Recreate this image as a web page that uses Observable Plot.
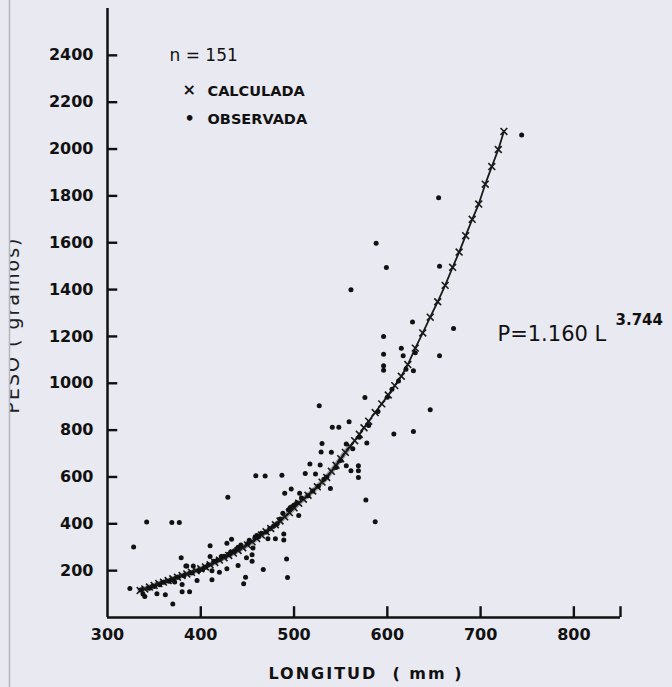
<!DOCTYPE html>
<html>
<head>
<meta charset="utf-8">
<script src="https://cdn.jsdelivr.net/npm/d3@7"></script>
<script src="https://cdn.jsdelivr.net/npm/@observablehq/plot@0.6"></script>
<style>
  html, body { margin: 0; padding: 0; background: #e9e9f1; }
  #chart { position: relative; width: 672px; height: 687px; overflow: hidden; }
</style>
</head>
<body>
<div id="chart"></div>
<script>
// Observed (length mm, weight g)
const obsLength = [336,338,340,345,350,353,356,360,362,366,370,372,375,380,380,382,385,388,390,392,396,398,402,405,408,410,410,412,412,414,418,420,422,425,428,428,430,432,433,436,440,440,443,446,448,449,450,452,455,455,456,458,460,462,465,467,470,472,474,478,480,482,485,488,489,489,490,492,493,494,496,497,500,503,505,506,508,512,515,517,520,523,526,528,529,530,532,535,539,540,541,545,548,550,556,556,559,561,563,569,569,569,570,576,577,578,580,587,590,596,596,596,596,599,588,561,600,605,607,612,615,617,620,627,628,628,630,646,656,656,655,671,744,527,342,369,377,328,324,370,379,384,429,459,469,487];
const obsWeight = [118,100,90,125,132,101,140,150,97,155,160,152,172,141,110,178,220,110,190,220,158,200,205,215,225,306,260,200,161,240,245,193,260,262,208,317,270,280,334,285,222,300,310,144,172,255,315,330,240,268,297,340,350,345,360,205,365,336,380,390,336,400,420,445,357,331,530,250,171,460,470,549,480,490,435,530,510,615,520,655,540,613,560,651,707,743,590,600,551,705,812,640,812,670,648,741,836,627,720,648,627,598,770,939,502,745,820,409,880,1200,1124,1075,1056,1494,1598,1399,940,975,783,1010,1150,1117,1060,1262,1053,794,1130,887,1500,1117,1792,1234,2060,904,408,406,406,301,124,58,255,220,513,605,604,607];

// Calculated (length mm, weight g)
const calcLength = [335,340,345,350,355,360,365,370,375,380,385,390,395,400,405,410,415,420,425,430,435,440,445,450,455,460,465,470,475,480,485,490,495,500,505,510,515,520,525,530,535,540,545,550,555,560,565,570,575,580,587,594,601,608,615,622,630,638,646,654,662,670,677,684,691,698,705,712,719,725];
const calcWeight = [115,122,130,137,145,151,158,165,172,179,186,193,200,208,216,225,235,245,255,265,275,286,298,310,323,337,352,366,380,396,412,430,448,468,488,505,522,540,558,578,598,624,650,678,705,730,755,782,810,838,875,912,950,990,1030,1080,1150,1215,1282,1348,1418,1495,1560,1630,1700,1765,1850,1925,1998,2075];

const xTicks = [300, 400, 500, 600, 700, 800];
const xTickMarks = [400, 500, 600, 700, 800, 850];
const yTicks = [200, 400, 600, 800, 1000, 1200, 1400, 1600, 1800, 2000, 2200, 2400];

const obs = obsLength.map((l, i) => ({L: l, P: obsWeight[i]}));
const calc = calcLength.map((l, i) => ({L: l, P: calcWeight[i]}));

const font = "'DejaVu Sans', sans-serif";

const plot = Plot.plot({
  width: 672,
  height: 687,
  marginLeft: 107,
  marginRight: 52,
  marginTop: 8,
  marginBottom: 70,
  style: {background: "#e9e9f1", color: "#111", fontFamily: font, overflow: "visible"},
  x: {domain: [300, 850]},
  y: {domain: [0, 2600]},
  marks: [
    // axis lines
    Plot.ruleX([300], {stroke: "#111", strokeWidth: 2.5}),
    Plot.ruleY([0], {stroke: "#111", strokeWidth: 2.5}),
    // inward tick marks
    Plot.ruleY(yTicks, {x1: 300, x2: 311, stroke: "#111", strokeWidth: 2.4}),
    Plot.ruleX(xTickMarks, {y1: 0, y2: 46, stroke: "#111", strokeWidth: 2.4}),
    Plot.axisY(yTicks, {
      tickSize: 0, tickPadding: 14,
      fontSize: 16, fontWeight: "bold", letterSpacing: 1.5, label: null,
      tickFormat: d => String(d)
    }),
    Plot.axisX(xTicks, {
      tickSize: 0, tickPadding: 11,
      fontSize: 16, fontWeight: "bold", letterSpacing: 1.5, label: null,
      tickFormat: d => String(d)
    }),
    // fitted curve and calculated marks
    Plot.line(calc, {x: "L", y: "P", stroke: "#9a9aa2", strokeWidth: 5,
      filter: d => d.L <= 560}),
    Plot.line(calc, {x: "L", y: "P", stroke: "#1a1a1a", strokeWidth: 1.8}),
    Plot.dot(calc, {x: "L", y: "P", symbol: "times", r: 3.2, stroke: "#1a1a1a", strokeWidth: 1.6}),
    // observed
    Plot.dot(obs, {x: "L", y: "P", r: 2.5, fill: "#111", stroke: "none"}),
    // legend
    Plot.text(["n = 151"], {frameAnchor: "top-left", dx: 62, dy: 40, textAnchor: "start",
      fontSize: 17, fill: "#111", letterSpacing: 1}),
    Plot.text(["×"], {frameAnchor: "top-left", dx: 75, dy: 75, textAnchor: "start",
      fontSize: 16, fontWeight: "bold", fill: "#111"}),
    Plot.text(["CALCULADA"], {frameAnchor: "top-left", dx: 100, dy: 77, textAnchor: "start",
      fontSize: 14.5, fontWeight: "bold", fill: "#111", letterSpacing: 0.6}),
    Plot.text(["•"], {frameAnchor: "top-left", dx: 77, dy: 104, textAnchor: "start",
      fontSize: 16, fontWeight: "bold", fill: "#111"}),
    Plot.text(["OBSERVADA"], {frameAnchor: "top-left", dx: 100, dy: 105, textAnchor: "start",
      fontSize: 14.5, fontWeight: "bold", fill: "#111", letterSpacing: 0.6}),
    // equation
    Plot.text(["P=1.160 L"], {frameAnchor: "top-left", dx: 390, dy: 318, textAnchor: "start",
      fontSize: 21, fill: "#111"}),
    Plot.text(["3.744"], {frameAnchor: "top-left", dx: 508, dy: 306, textAnchor: "start",
      fontSize: 15, fontWeight: "bold", fill: "#111", letterSpacing: 0.5})
  ]
});

const chart = document.getElementById("chart");
chart.appendChild(plot);

const svg = d3.select(plot);

// rotated y-axis title (partly cut at the page edge, as in the scan)
svg.append("text")
  .attr("transform", "translate(19,325) rotate(-90)")
  .attr("text-anchor", "middle")
  .attr("font-family", font)
  .attr("font-size", 19)
  .attr("letter-spacing", 2)
  .attr("fill", "#222")
  .text("PESO ( gramos)");
svg.append("rect").attr("x", 0).attr("y", 0).attr("width", 9).attr("height", 687).attr("fill", "#e9e9f1");
svg.append("line").attr("x1", 9.5).attr("x2", 9.5).attr("y1", 0).attr("y2", 687)
  .attr("stroke", "#b5b5bd").attr("stroke-width", 1.5);

// x-axis title
svg.append("text")
  .attr("x", 366).attr("y", 679)
  .attr("text-anchor", "middle")
  .attr("font-family", font)
  .attr("font-size", 16)
  .attr("font-weight", "bold")
  .attr("letter-spacing", 2)
  .attr("fill", "#111")
  .text("LONGITUD  ( mm )");
</script>
</body>
</html>
